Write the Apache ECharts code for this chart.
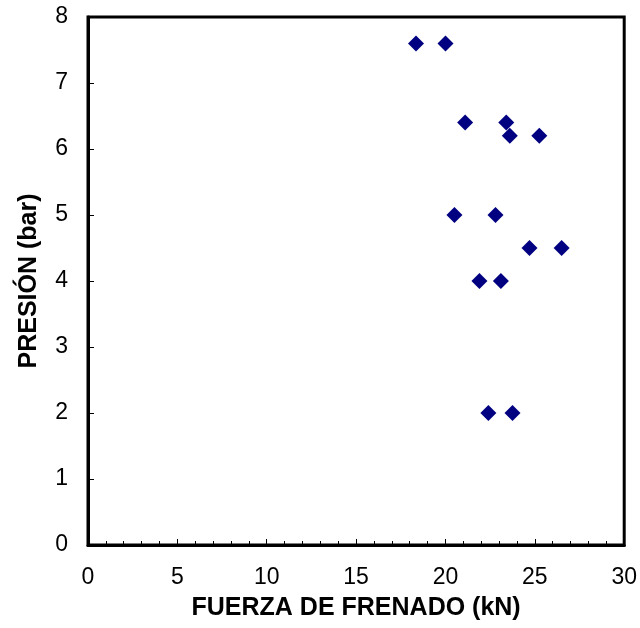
<!DOCTYPE html>
<html>
<head>
<meta charset="utf-8">
<script src="https://cdn.jsdelivr.net/npm/echarts@6/dist/echarts.min.js"></script>
<style>html,body{margin:0;padding:0;background:#fff}#c{width:640px;height:628px}</style>
</head>
<body>
<div id="c"></div>
<script>
const fuerza = [18.35, 20.0, 21.1, 23.4, 23.6, 25.25, 20.5, 22.8, 24.7, 26.5, 21.9, 23.1, 22.4, 23.75];
const presion = [7.6, 7.6, 6.4, 6.4, 6.2, 6.2, 5.0, 5.0, 4.5, 4.5, 4.0, 4.0, 2.0, 2.0];
const xTitle = 'FUERZA DE FRENADO (kN)';
const yTitle = 'PRESIÓN (bar)';

const points = fuerza.map((x, i) => [x, presion[i]]);
const font = 'Liberation Sans, Arial, sans-serif';
const chart = echarts.init(document.getElementById('c'));
chart.setOption({
  animation: false,
  backgroundColor: '#fff',
  grid: { left: 88, right: 13, top: 17, bottom: 83, show: true, borderColor: '#000', borderWidth: 3, backgroundColor: 'transparent' },
  xAxis: {
    type: 'value', min: 0, max: 30, interval: 5,
    name: xTitle, nameLocation: 'middle', nameGap: 51,
    nameTextStyle: { fontFamily: font, fontSize: 25, fontWeight: 'bold', color: '#000' },
    axisLine: { show: true, onZero: false, lineStyle: { color: '#000', width: 3 } },
    axisTick: { show: true, inside: true, length: 6, lineStyle: { color: '#000', width: 1 } },
    minorTick: { show: true, splitNumber: 5, length: 4, lineStyle: { color: '#000', width: 1 } },
    axisLabel: { fontFamily: font, fontSize: 23, color: '#000', margin: 21 },
    splitLine: { show: false }
  },
  yAxis: {
    type: 'value', min: 0, max: 8, interval: 1,
    name: yTitle, nameLocation: 'middle', nameGap: 46, nameRotate: 90,
    nameTextStyle: { fontFamily: font, fontSize: 25, fontWeight: 'bold', color: '#000' },
    axisLine: { show: true, onZero: false, lineStyle: { color: '#000', width: 3 } },
    axisTick: { show: true, inside: true, length: 6, lineStyle: { color: '#000', width: 1 } },
    axisLabel: { fontFamily: font, fontSize: 23, color: '#000', margin: 20 },
    splitLine: { show: false }
  },
  series: [{
    type: 'scatter',
    data: points,
    symbol: 'diamond',
    symbolSize: 16,
    itemStyle: { color: '#000080', opacity: 1 }
  }]
});
</script>
</body>
</html>
